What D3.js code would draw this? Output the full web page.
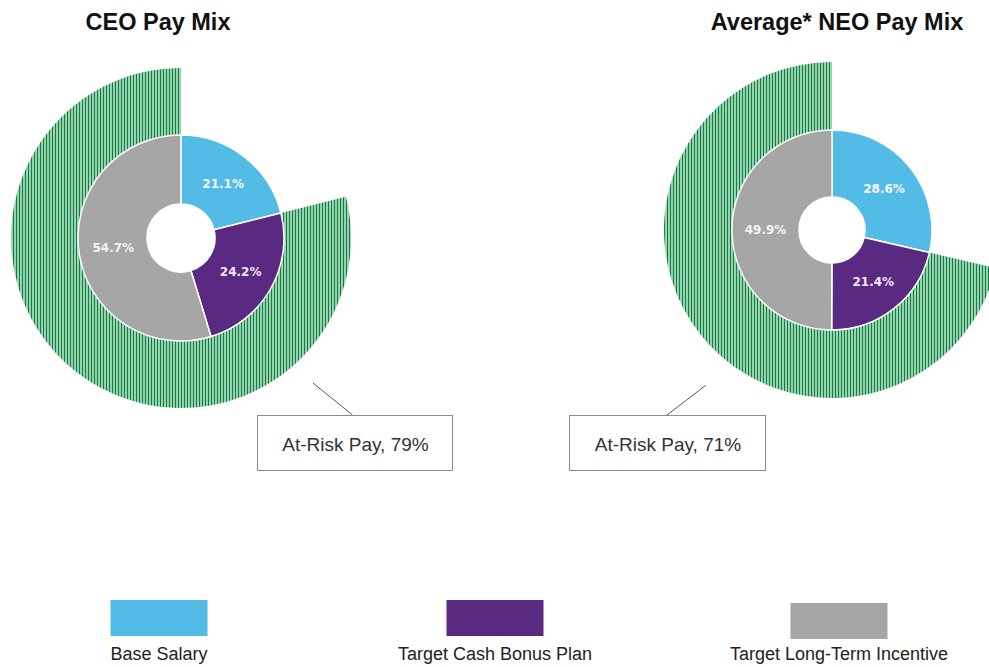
<!DOCTYPE html>
<html>
<head>
<meta charset="utf-8">
<script src="https://cdn.jsdelivr.net/npm/d3@7"></script>
<style>
  html, body { margin: 0; padding: 0; background: #ffffff; }
  svg { display: block; }
</style>
</head>
<body>
<script>
// ---- data ----
const categories = ["Base Salary", "Target Cash Bonus Plan", "Target Long-Term Incentive"];
const ceoValues = [21.1, 24.2, 54.7];
const neoValues = [28.6, 21.4, 49.9];
const chartTitles = ["CEO Pay Mix", "Average* NEO Pay Mix"];
const atRiskPct = [79, 71];
const sliceColors = ["#52bce6", "#5a2a83", "#a6a6a6"];
const labelColors = ["#f4f8fb", "#f3e6f4", "#f4f4f4"];

// ---- layout ----
const W = 989, H = 667;
const charts = [
  { values: ceoValues, title: chartTitles[0], atRisk: atRiskPct[0], cx: 181, cy: 238, r0: 34, r1: 103, r2: 170,
    titleX: 158, leadA: 137.7, leadR: 196, leadEndDx: -2, box: { x: 257, y: 415, w: 195, h: 55 } },
  { values: neoValues, title: chartTitles[1], atRisk: atRiskPct[1], cx: 832, cy: 230, r0: 33, r1: 100, r2: 168,
    titleX: 837, leadA: 219.1, leadR: 200, leadEndDx: 0, box: { x: 569, y: 415, w: 196, h: 55 } }
];

const svg = d3.select("body").append("svg").attr("width", W).attr("height", H);

const defs = svg.append("defs");
const pat = defs.append("pattern").attr("id", "stripes")
  .attr("width", 3).attr("height", 10).attr("patternUnits", "userSpaceOnUse");
pat.append("rect").attr("width", 3).attr("height", 10).attr("fill", "#8fd6aa");
pat.append("rect").attr("width", 1).attr("height", 10).attr("fill", "#227548");

const pie = d3.pie().sort(null).value(d => d);

charts.forEach(c => {
  const g = svg.append("g").attr("transform", `translate(${c.cx},${c.cy})`);
  const slices = pie(c.values);

  // at-risk outer band: from start of bonus slice to the end of the circle
  const riskArc = d3.arc().innerRadius(c.r1).outerRadius(c.r2);
  g.append("path")
    .attr("d", riskArc({ startAngle: slices[1].startAngle, endAngle: 2 * Math.PI }))
    .attr("fill", "url(#stripes)");

  const arc = d3.arc().innerRadius(c.r0).outerRadius(c.r1);
  g.selectAll("path.slice").data(slices).join("path")
    .attr("class", "slice")
    .attr("d", arc)
    .attr("fill", (d, i) => sliceColors[i])
    .attr("stroke", "#ffffff")
    .attr("stroke-width", 1.5);

  g.selectAll("text.lbl").data(slices).join("text")
    .attr("class", "lbl")
    .attr("transform", d => `translate(${arc.centroid(d)})`)
    .attr("text-anchor", "middle")
    .attr("dy", "0.35em")
    .attr("font-family", "'DejaVu Sans', Verdana, sans-serif")
    .attr("font-weight", "bold")
    .attr("font-size", 12)
    .attr("fill", (d, i) => labelColors[i])
    .text(d => d.data.toFixed(1) + "%");

  // title
  svg.append("text")
    .attr("x", c.titleX).attr("y", 30)
    .attr("text-anchor", "middle")
    .attr("font-family", "'Liberation Sans', Arial, sans-serif")
    .attr("font-weight", "bold")
    .attr("font-size", 23.5)
    .attr("fill", "#111111")
    .text(c.title);

  // callout
  const a = c.leadA * Math.PI / 180;
  const lx = c.cx + c.leadR * Math.sin(a), ly = c.cy - c.leadR * Math.cos(a);
  svg.append("line")
    .attr("x1", lx).attr("y1", ly)
    .attr("x2", c.box.x + c.box.w / 2 + c.leadEndDx).attr("y2", c.box.y)
    .attr("stroke", "#555555").attr("stroke-width", 1);
  svg.append("rect")
    .attr("x", c.box.x + 0.5).attr("y", c.box.y + 0.5)
    .attr("width", c.box.w).attr("height", c.box.h)
    .attr("fill", "#ffffff")
    .attr("stroke", "#8c8c8c").attr("stroke-width", 1);
  svg.append("text")
    .attr("x", c.box.x + c.box.w / 2 + 1).attr("y", c.box.y + 36)
    .attr("text-anchor", "middle")
    .attr("font-family", "'Liberation Sans', Arial, sans-serif")
    .attr("font-size", 19)
    .attr("fill", "#333333")
    .text(`At-Risk Pay, ${c.atRisk}%`);
});

// legend
const legendX = [159, 495, 839];
const legendY = [600, 600, 603];
const sw = 97, sh = 36;
const lg = svg.append("g");
categories.forEach((name, i) => {
  lg.append("rect")
    .attr("x", legendX[i] - sw / 2).attr("y", legendY[i])
    .attr("width", sw).attr("height", sh)
    .attr("fill", sliceColors[i]);
  lg.append("text")
    .attr("x", legendX[i]).attr("y", 660)
    .attr("text-anchor", "middle")
    .attr("font-family", "'Liberation Sans', Arial, sans-serif")
    .attr("font-size", 18)
    .attr("fill", "#222222")
    .text(name);
});
</script>
</body>
</html>
